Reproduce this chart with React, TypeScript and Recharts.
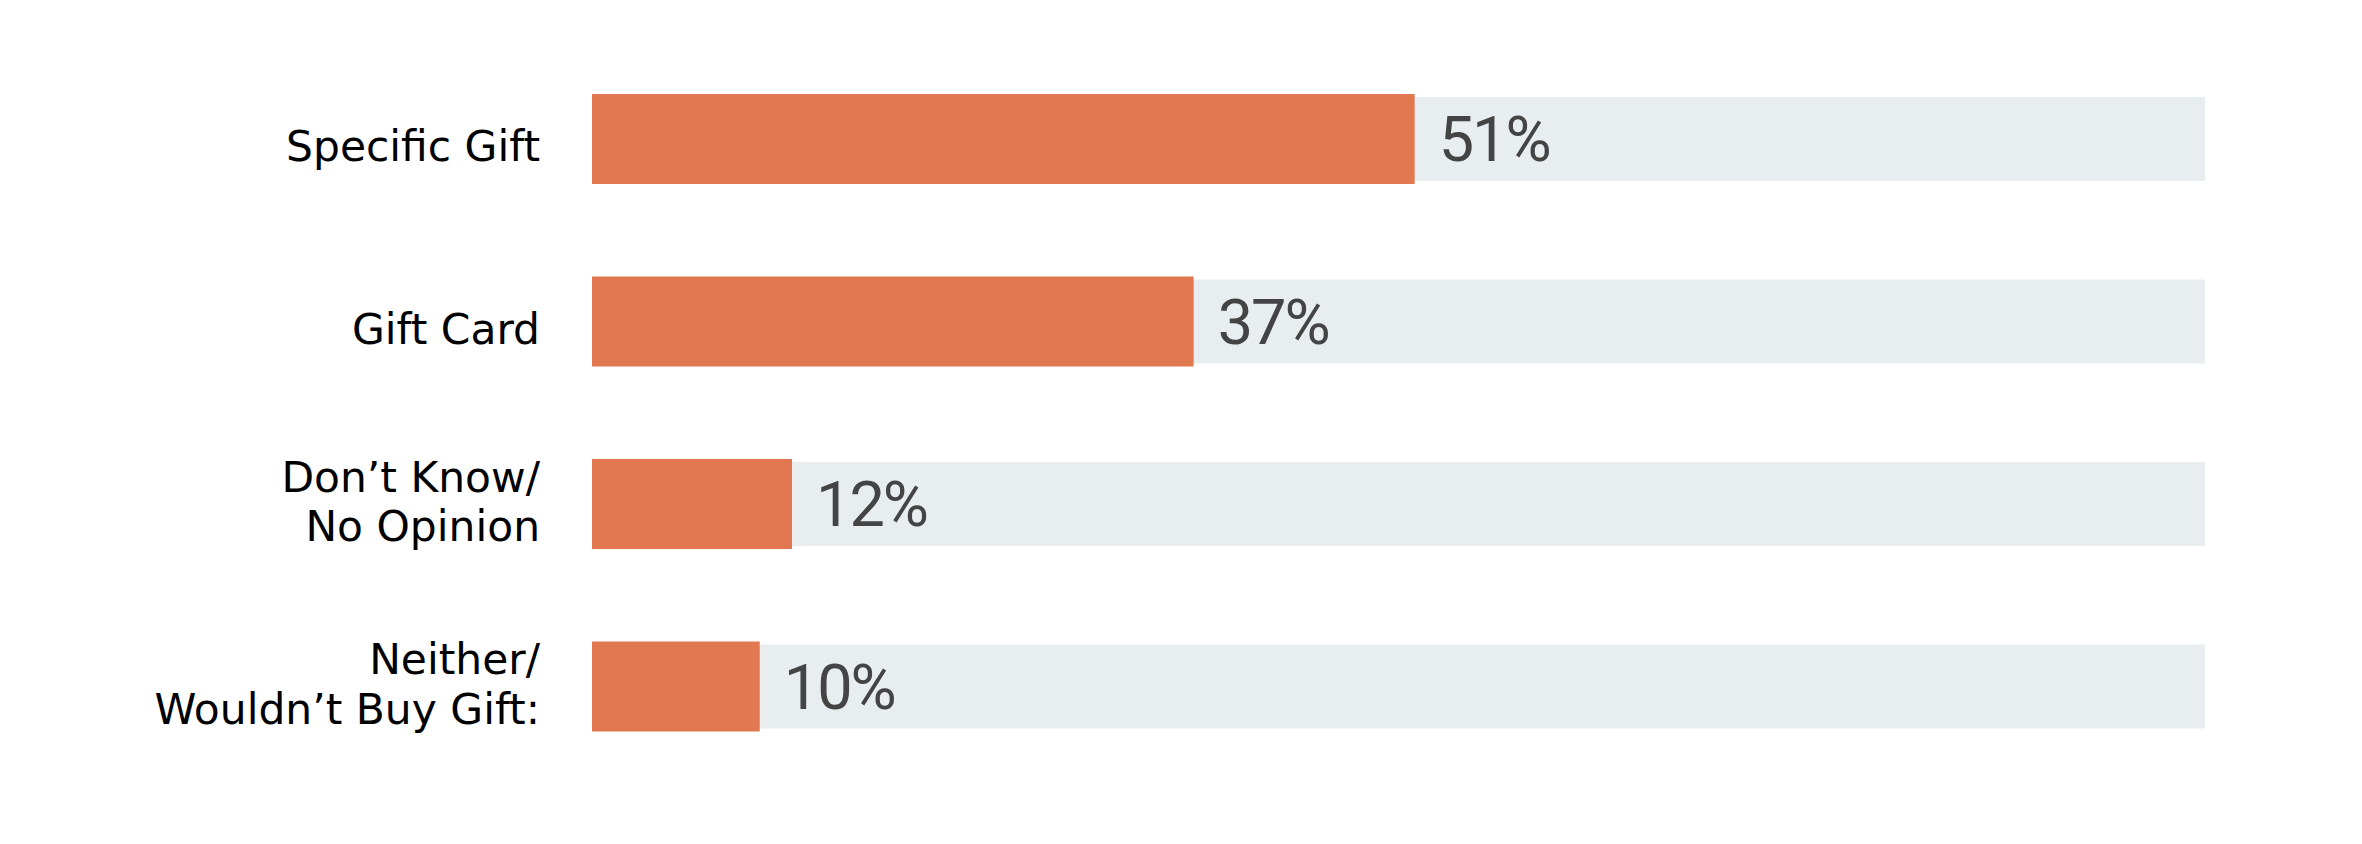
import React from 'react';
import { BarChart, Bar, XAxis, YAxis, LabelList } from 'recharts';

// categories, lines split on '\n'
const CATEGORIES = [
  'Specific Gift',
  'Gift Card',
  'Don’t Know/\nNo Opinion',
  'Neither/\nWouldn’t Buy Gift:',
];
// bar lengths (percent)
const VALUES = [51, 37.3, 12.4, 10.4];
// value labels as printed
const LABELS = ['51%', '37%', '12%', '10%'];

const ORANGE = '#E1784F';
const TRACK = '#E8EDF0';

const data = CATEGORIES.map((name, i) => ({
  name,
  value: VALUES[i],
  label: LABELS[i],
}));

const CategoryTick = ({ x, y, payload }: any) => {
  const lines: string[] = String(payload.value).split('\n');
  const offsets = lines.length === 1 ? [22] : [-12.5, 37];
  return (
    <text
      x={x}
      textAnchor="end"
      fill="#000"
      fontFamily="'DejaVu Sans', sans-serif"
      fontSize={42.4}
    >
      {lines.map((line, i) => (
        <tspan key={i} x={x} y={y + offsets[i]}>
          {line}
        </tspan>
      ))}
    </text>
  );
};

// gray track behind each bar, a bit thinner than the bar itself
const Track = (props: any) => {
  const { x, y, width, height } = props;
  return <rect x={x} y={y + 3} width={width} height={height - 6} fill={TRACK} />;
};

export default function App() {
  return (
    <div style={{ width: 2362, height: 844, background: '#fff' }}>
      <style>{'body { margin: 0; }'}</style>
      <BarChart
        width={2362}
        height={844}
        data={data}
        layout="vertical"
        margin={{ top: 48, right: 157, bottom: 66, left: 0 }}
      >
        <XAxis type="number" domain={[0, 100]} hide />
        <YAxis
          type="category"
          dataKey="name"
          width={592}
          axisLine={false}
          tickLine={false}
          tickSize={0}
          tickMargin={52}
          tick={<CategoryTick />}
          interval={0}
        />
        <Bar
          dataKey="value"
          fill={ORANGE}
          barSize={90}
          background={Track}
          isAnimationActive={false}
        >
          <LabelList
            dataKey="label"
            position="right"
            offset={24}
            fill="#444444"
            fontSize={63}
            fontFamily="Roboto, sans-serif"
            style={{ letterSpacing: -2 }}
          />
        </Bar>
      </BarChart>
    </div>
  );
}
